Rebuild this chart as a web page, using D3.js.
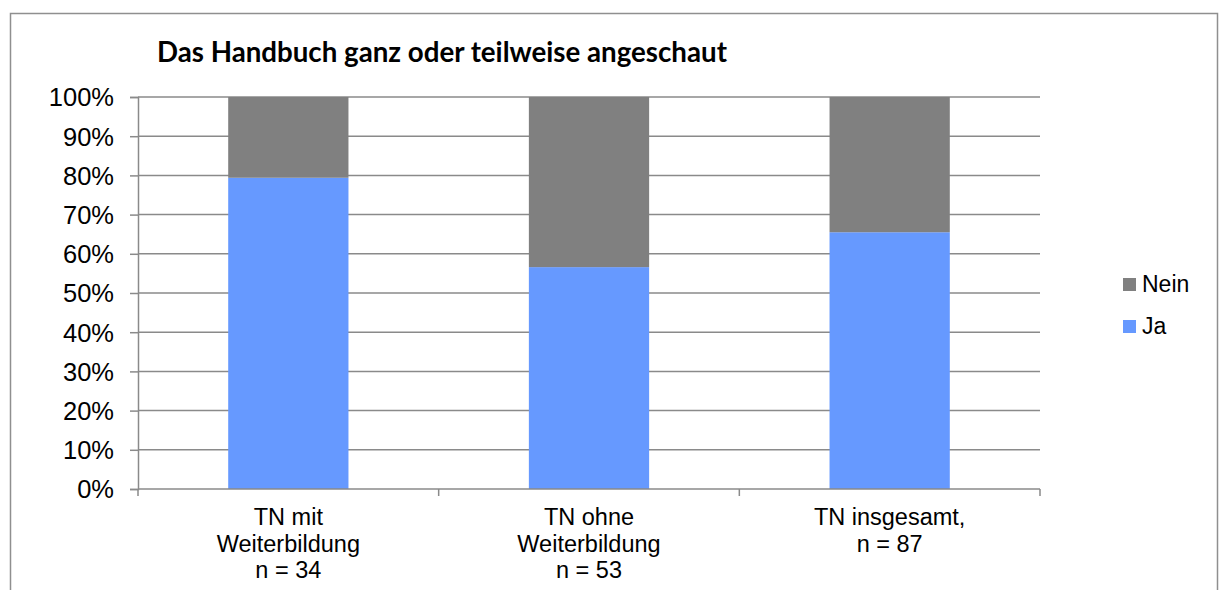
<!DOCTYPE html>
<html><head><meta charset="utf-8">
<script src="https://cdn.jsdelivr.net/npm/d3@7"></script>
<style>html,body{margin:0;padding:0;background:#fff;}svg{display:block;}</style>
</head><body>
<svg id="chart" width="1221" height="590"></svg>
<script>
const title = "Das Handbuch ganz oder teilweise angeschaut";
const categories = [["TN mit","Weiterbildung","n = 34"],["TN ohne","Weiterbildung","n = 53"],["TN insgesamt,","n = 87"]];
const categoryKeys = ["mit","ohne","gesamt"];
const ja = [79.4, 56.6, 65.5];
const nein = [20.6, 43.4, 34.5];
const seriesNames = ["Ja","Nein"];
const colors = {"Ja":"#6699FF","Nein":"#808080"};
const yTicks = [0,10,20,30,40,50,60,70,80,90,100];

const svg = d3.select("#chart");
const m = {left:138, right:1040, top:97, bottom:489};
const x = d3.scaleBand().domain(categoryKeys).range([m.left,m.right]).paddingInner(0.6).paddingOuter(0.3);
const y = d3.scaleLinear().domain([0,100]).range([m.bottom,m.top]);
const grid = "#8a8a8a";

// outer border
svg.append("rect").attr("x",10.5).attr("y",13.5).attr("width",1207).attr("height",600)
  .attr("fill","none").attr("stroke","#8f8f8f").attr("stroke-width",1.5);

// gridlines
svg.append("g").selectAll("line").data(yTicks.filter(d=>d>0)).join("line")
  .attr("x1",m.left).attr("x2",m.right).attr("y1",d=>y(d)).attr("y2",d=>y(d))
  .attr("stroke",grid).attr("stroke-width",1.5);

// stacked bars
const rows = categoryKeys.map((k,i)=>({key:k, Ja:ja[i], Nein:nein[i]}));
const stack = d3.stack().keys(seriesNames)(rows);
svg.append("g").selectAll("g").data(stack).join("g").attr("fill",d=>colors[d.key])
  .selectAll("rect").data(d=>d).join("rect")
  .attr("x",d=>x(d.data.key)).attr("width",x.bandwidth())
  .attr("y",d=>y(d[1])).attr("height",d=>y(d[0])-y(d[1]));

// y axis
const yAxis = d3.axisLeft(y).tickValues(yTicks).tickFormat(d=>d+"%").tickSize(8).tickPadding(16);
const ga = svg.append("g").attr("transform",`translate(${m.left},0)`).call(yAxis);
ga.select(".domain").attr("stroke",grid).attr("stroke-width",1.5);
ga.selectAll(".tick line").attr("stroke",grid).attr("stroke-width",1.5);
ga.selectAll(".tick text").attr("font-family","'Liberation Sans', Arial, sans-serif").attr("font-size",25.5).attr("fill","#000").attr("dy","0.35em");

// x axis line + boundary ticks
const bounds = d3.range(categoryKeys.length+1).map(i=>m.left + i*(m.right-m.left)/categoryKeys.length);
svg.append("line").attr("x1",m.left).attr("x2",m.right).attr("y1",m.bottom).attr("y2",m.bottom).attr("stroke",grid).attr("stroke-width",1.5);
svg.append("g").selectAll("line").data(bounds).join("line")
  .attr("x1",d=>d).attr("x2",d=>d).attr("y1",m.bottom).attr("y2",m.bottom+7).attr("stroke",grid).attr("stroke-width",1.5);

// x labels
const xl = svg.append("g").attr("font-family","'Liberation Sans', Arial, sans-serif").attr("font-size",23.5).attr("fill","#000").attr("text-anchor","middle");
categoryKeys.forEach((k,i)=>{
  const t = xl.append("text").attr("x",x(k)+x.bandwidth()/2).attr("y",525);
  categories[i].forEach((line,j)=>{
    t.append("tspan").attr("x",x(k)+x.bandwidth()/2).attr("dy", j===0?0:26.5).text(line);
  });
});

// title
const tt = svg.append("text").attr("x",157).attr("y",62).attr("font-family","Lato, 'Open Sans', sans-serif")
  .attr("font-weight","bold").attr("font-size",22).attr("fill","#000").text(title);
const w = tt.node().getComputedTextLength();
tt.attr("font-size", 22*570/w);

// legend
const legendItems = ["Nein","Ja"];
const lg = svg.append("g");
legendItems.forEach((n,i)=>{
  lg.append("rect").attr("x",1123).attr("y",278+i*42).attr("width",13).attr("height",13).attr("fill",colors[n]);
  lg.append("text").attr("x",1142).attr("y",292+i*41.5).attr("font-family","'Liberation Sans', Arial, sans-serif")
    .attr("font-size",23).attr("fill","#000").text(n);
});
</script>
</body></html>
